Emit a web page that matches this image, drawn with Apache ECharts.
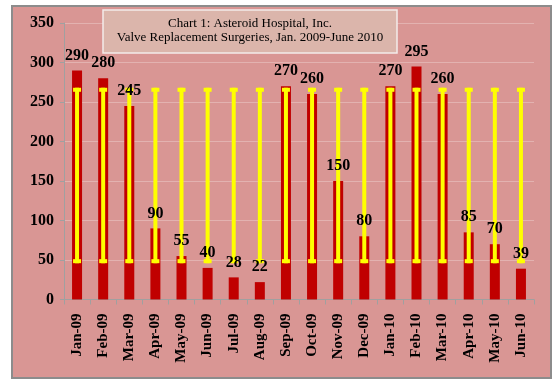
<!DOCTYPE html>
<html>
<head>
<meta charset="utf-8">
<script src="https://cdn.jsdelivr.net/npm/echarts@6/dist/echarts.min.js"></script>
<style>
html,body{margin:0;padding:0;background:#fff;}
#chart{width:554px;height:380px;}
</style>
</head>
<body>
<div id="chart"></div>
<script>
const categories = ['Jan-09','Feb-09','Mar-09','Apr-09','May-09','Jun-09','Jul-09','Aug-09','Sep-09','Oct-09','Nov-09','Dec-09','Jan-10','Feb-10','Mar-10','Apr-10','May-10','Jun-10'];
const surgeries = [290,280,245,90,55,40,28,22,270,260,150,80,270,295,260,85,70,39];
const upperLimit = [268,268,268,268,268,268,268,268,268,268,268,268,268,268,268,268,268,268];
const lowerLimit = [46,46,46,46,46,46,46,46,46,46,46,46,46,46,46,46,46,46];
const yTicks = [0,50,100,150,200,250,300,350];
const titleLines = ['Chart 1: Asteroid Hospital, Inc.', 'Valve Replacement Surgeries, Jan. 2009-June 2010'];

const serif = '"Liberation Serif", "Times New Roman", serif';
const chart = echarts.init(document.getElementById('chart'), null, {renderer:'canvas'});

const limitData = categories.map((c,i)=>[i, lowerLimit[i], upperLimit[i]]);

chart.setOption({
  backgroundColor:'#ffffff',
  animation:false,
  graphic:[
    {type:'rect', z:-10, shape:{x:12, y:6, width:539, height:372}, style:{fill:'#d99694', stroke:'#8c8c8c', lineWidth:2}},
    {type:'rect', z:10, shape:{x:103, y:10, width:294, height:43}, style:{fill:'#dbb5ab', stroke:'#f4ecea', lineWidth:1.5}},
    {type:'text', z:11, style:{x:250, y:31, text:titleLines.join('\n'), textAlign:'center', textVerticalAlign:'middle', font:'13px ' + serif, lineHeight:14, fill:'#000'}}
  ],
  grid:{left:64, right:20, top:23, bottom:80.5, containLabel:false},
  xAxis:{
    type:'category',
    data:categories,
    boundaryGap:true,
    axisLine:{show:true, lineStyle:{color:'#a0a0a0', width:1}},
    axisTick:{show:true, length:5, interval:0, lineStyle:{color:'#a0a0a0'}},
    axisLabel:{rotate:90, interval:0, margin:14, fontFamily:serif, fontWeight:'bold', fontSize:15, color:'#000'},
    splitLine:{show:false}
  },
  yAxis:{
    type:'value', min:yTicks[0], max:yTicks[yTicks.length-1], interval:50,
    axisLine:{show:true, lineStyle:{color:'#a0a0a0', width:1}},
    axisTick:{show:true, length:4, lineStyle:{color:'#a0a0a0'}},
    axisLabel:{margin:10, fontFamily:serif, fontWeight:'bold', fontSize:16, color:'#000'},
    splitLine:{show:true, lineStyle:{color:'#e3b2b0', width:1}}
  },
  series:[
    {
      type:'bar', data:surgeries, barWidth:10, z:2,
      itemStyle:{color:'#c00000'},
      label:{show:false}
    },
    {
      type:'custom', z:3, data:limitData,
      renderItem:function(params, api){
        const x = api.value(0);
        const lo = api.coord([x, api.value(1)]);
        const hi = api.coord([x, api.value(2)]);
        const cx = lo[0];
        return {type:'group', children:[
          {type:'rect', shape:{x:cx-2, y:hi[1], width:4, height:lo[1]-hi[1]}, style:{fill:'#ffff00'}},
          {type:'rect', shape:{x:cx-4, y:hi[1], width:8, height:4}, style:{fill:'#ffff00'}},
          {type:'rect', shape:{x:cx-4, y:lo[1]-4, width:8, height:4}, style:{fill:'#ffff00'}}
        ]};
      }
    },
    {
      type:'bar', data:surgeries, barWidth:10, barGap:'-100%', z:5,
      itemStyle:{color:'rgba(0,0,0,0)'},
      label:{show:true, position:'top', distance:7, fontFamily:serif, fontWeight:'bold', fontSize:16, color:'#000'}
    }
  ]
});
</script>
</body>
</html>
